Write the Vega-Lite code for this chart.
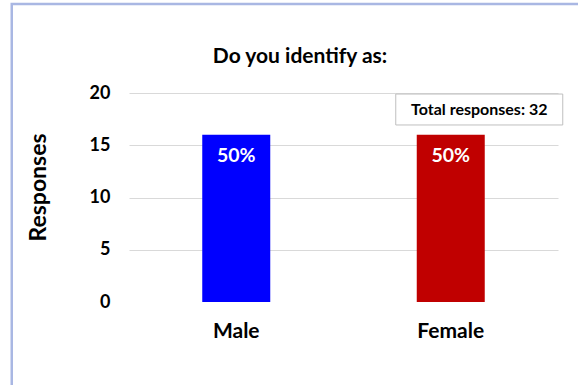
{
  "$schema": "https://vega.github.io/schema/vega-lite/v6.json",
  "width": 429,
  "height": 209,
  "autosize": {"type": "none"},
  "padding": {"left": 129, "top": 93, "right": 20, "bottom": 83},
  "background": "white",
  "config": {
    "font": "Lato",
    "view": {"stroke": null},
    "axisX": {
      "labelAngle": 0,
      "labelAlign": "center",
      "labelBaseline": "top",
      "labelFontSize": 21,
      "labelFontWeight": "bold",
      "labelColor": "black",
      "labelPadding": 18,
      "ticks": false,
      "domain": false,
      "grid": false
    },
    "axisY": {
      "tickCount": 5,
      "titleFontSize": 23,
      "titleFontWeight": "bold",
      "titleColor": "black",
      "titlePadding": 39,
      "titleY": 94,
      "labelFontSize": 18,
      "labelFontWeight": "bold",
      "labelColor": "black",
      "labelPadding": 19,
      "ticks": false,
      "domain": false,
      "gridColor": "#d9d9d9"
    }
  },
  "title": {
    "text": "Do you identify as:",
    "fontSize": 21,
    "fontWeight": "bold",
    "color": "black",
    "anchor": "middle",
    "baseline": "alphabetic",
    "dx": -43.5,
    "offset": -81
  },
  "datasets": {
    "answers": [
      {"gender": "Male", "responses": 16, "share": "50%"},
      {"gender": "Female", "responses": 16, "share": "50%"}
    ],
    "frame": [{"col": "Male", "top": 28.52, "bottom": -15}],
    "note": [{"col": "Female", "top": 19.9, "bottom": 16.94, "mid": 18.42, "label": "Total responses: 32"}]
  },
  "layer": [
    {
      "data": {"name": "frame"},
      "mark": {
        "type": "bar",
        "width": 1200,
        "xOffset": 375.5,
        "fill": "white",
        "fillOpacity": 0,
        "stroke": "#a9b7e3",
        "strokeWidth": 2.5
      },
      "encoding": {
        "x": {"field": "col", "type": "nominal", "title": null},
        "y": {"field": "top", "type": "quantitative", "title": "Responses", "axis": {"values": [0, 5, 10, 15, 20]}},
        "y2": {"field": "bottom"}
      }
    },
    {
      "data": {"name": "answers"},
      "mark": {"type": "bar", "width": 68},
      "encoding": {
        "x": {
          "field": "gender",
          "type": "nominal",
          "title": null,
          "scale": {"domain": ["Male", "Female"], "paddingInner": 0, "paddingOuter": 0}
        },
        "y": {
          "field": "responses",
          "type": "quantitative",
          "title": "Responses",
          "scale": {"domain": [0, 20], "nice": false},
          "axis": {
            "values": [0, 5, 10, 15, 20],
            "gridOpacity": {"condition": {"test": "datum.value === 0", "value": 0}, "value": 1}
          }
        },
        "color": {
          "field": "gender",
          "type": "nominal",
          "scale": {"domain": ["Male", "Female"], "range": ["#0000ff", "#c00000"]},
          "legend": null
        }
      }
    },
    {
      "data": {"name": "answers"},
      "mark": {
        "type": "text",
        "baseline": "middle",
        "dy": 21,
        "fill": "white",
        "fontSize": 19.5,
        "fontWeight": "bold"
      },
      "encoding": {
        "x": {"field": "gender", "type": "nominal", "title": null},
        "y": {"field": "responses", "type": "quantitative", "title": "Responses", "axis": {"values": [0, 5, 10, 15, 20]}},
        "text": {"field": "share"}
      }
    },
    {
      "data": {"name": "note"},
      "mark": {
        "type": "bar",
        "width": 167,
        "xOffset": 28.5,
        "fill": "white",
        "stroke": "#bfbfbf",
        "strokeWidth": 1
      },
      "encoding": {
        "x": {"field": "col", "type": "nominal", "title": null},
        "y": {"field": "top", "type": "quantitative", "title": "Responses", "axis": {"values": [0, 5, 10, 15, 20]}},
        "y2": {"field": "bottom"}
      }
    },
    {
      "data": {"name": "note"},
      "mark": {
        "type": "text",
        "baseline": "middle",
        "dx": 28.5,
        "fill": "black",
        "fontSize": 16,
        "fontWeight": "bold"
      },
      "encoding": {
        "x": {"field": "col", "type": "nominal", "title": null},
        "y": {"field": "mid", "type": "quantitative", "title": "Responses", "axis": {"values": [0, 5, 10, 15, 20]}},
        "text": {"field": "label"}
      }
    }
  ]
}
